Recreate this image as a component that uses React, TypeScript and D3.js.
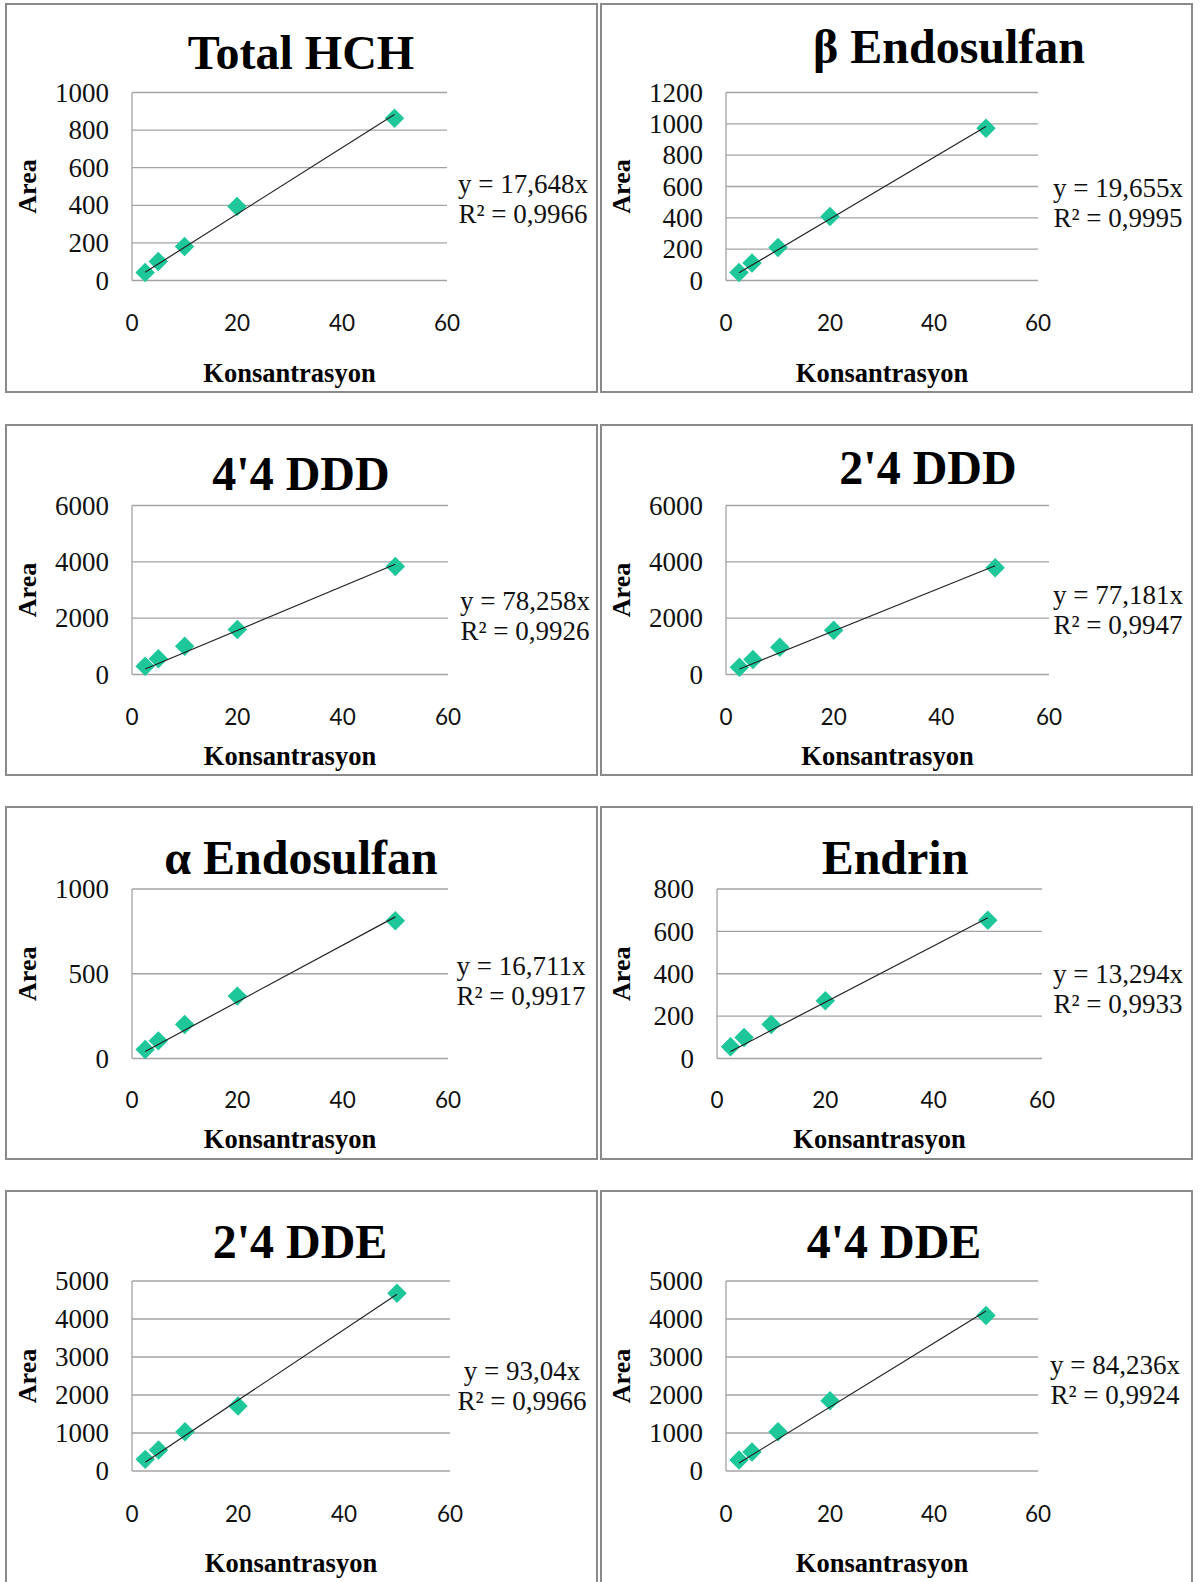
import React from "react";
import * as d3 from "d3";

// ---------- data ----------
const concentrations = [2.5, 5, 10, 20, 50];

const chartTitles = [
  "Total HCH",
  "β Endosulfan",
  "4'4 DDD",
  "2'4 DDD",
  "α Endosulfan",
  "Endrin",
  "2'4 DDE",
  "4'4 DDE",
];

const areaTotalHCH = [43, 101, 181, 394, 863];
const areaBetaEndosulfan = [51, 111, 211, 409, 972];
const area44DDD = [295, 555, 1004, 1594, 3837];
const area24DDD = [260, 531, 968, 1570, 3790];
const areaAlphaEndosulfan = [53, 104, 201, 368, 813];
const areaEndrin = [55, 99, 161, 272, 652];
const area24DDE = [306, 552, 1033, 1708, 4680];
const area44DDE = [290, 500, 1033, 1848, 4095];

const seriesValues = [
  areaTotalHCH,
  areaBetaEndosulfan,
  area44DDD,
  area24DDD,
  areaAlphaEndosulfan,
  areaEndrin,
  area24DDE,
  area44DDE,
];

const slopes = [17.648, 19.655, 78.258, 77.181, 16.711, 13.294, 93.04, 84.236];
const rSquared = ["0,9966", "0,9995", "0,9926", "0,9947", "0,9917", "0,9933", "0,9966", "0,9924"];

const yMaxValues = [1000, 1200, 6000, 6000, 1000, 800, 5000, 5000];
const yTickSteps = [200, 200, 2000, 2000, 500, 200, 1000, 1000];
const xTickValues = [0, 20, 40, 60];

const xAxisTitle = "Konsantrasyon";
const yAxisTitle = "Area";

// ---------- layout (positions only) ----------
type Layout = {
  box: [number, number, number, number];
  plot: [number, number, number, number]; // left, right, top, bottom
  title: [number, number];
  eq: [number, number];
  xTickY: number;
  xTitleY: number;
  yTitleX: number;
};

const layouts: Layout[] = [
  { box: [6, 4, 597, 392], plot: [132, 447, 92.5, 280.5], title: [301, 69], eq: [523, 193], xTickY: 331, xTitleY: 382, yTitleX: 36 },
  { box: [601, 4, 1192, 392], plot: [726, 1038, 92.5, 280.5], title: [949, 63], eq: [1118, 197], xTickY: 331, xTitleY: 382, yTitleX: 630 },
  { box: [6, 425, 597, 775], plot: [132, 448, 505.5, 674.5], title: [301, 490], eq: [525, 610], xTickY: 725, xTitleY: 765, yTitleX: 36 },
  { box: [601, 425, 1192, 775], plot: [726, 1049, 505.5, 674.5], title: [928, 484], eq: [1118, 604], xTickY: 725, xTitleY: 765, yTitleX: 630 },
  { box: [6, 807, 597, 1159], plot: [132, 448, 889, 1058.5], title: [301, 874], eq: [521, 975], xTickY: 1108, xTitleY: 1148, yTitleX: 36 },
  { box: [601, 807, 1192, 1159], plot: [717, 1042, 889, 1058.5], title: [895, 874], eq: [1118, 983], xTickY: 1108, xTitleY: 1148, yTitleX: 630 },
  { box: [6, 1191, 597, 1600], plot: [132, 450, 1281, 1471], title: [300, 1258], eq: [522, 1380], xTickY: 1522, xTitleY: 1572, yTitleX: 36 },
  { box: [601, 1191, 1192, 1600], plot: [726, 1038, 1281, 1471], title: [894, 1258], eq: [1115, 1374], xTickY: 1522, xTitleY: 1572, yTitleX: 630 },
];

const SERIF = "'Liberation Serif', 'Times New Roman', serif";
const SANS = "Lato, 'Open Sans', sans-serif";
const MARKER = "#1dc79a";
const GRID = "#a3a3a3";
const BORDER = "#8a8a8a";

function Panel({ i }: { i: number }) {
  const L = layouts[i];
  const [pl, pr, pt, pb] = L.plot;
  const x = d3.scaleLinear().domain([0, 60]).range([pl, pr]);
  const y = d3.scaleLinear().domain([0, yMaxValues[i]]).range([pb, pt]);
  const yTicks = d3.range(0, yMaxValues[i] + 1, yTickSteps[i]);
  const vals = seriesValues[i];
  const pts = concentrations.map((c, k) => [c, vals[k]] as [number, number]);
  const xMin = d3.min(concentrations)!;
  const xMax = d3.max(concentrations)!;
  const trend = d3.line<number>()
    .x((c) => x(c))
    .y((c) => y(slopes[i] * c))([xMin, xMax]);
  const diamond = d3.symbol(d3.symbolSquare, 190)()!;
  const slopeStr = String(slopes[i]).replace(".", ",");
  const [bx0, by0, bx1, by1] = L.box;
  const yMid = (pt + pb) / 2;

  return (
    <g>
      <rect x={bx0} y={by0} width={bx1 - bx0} height={by1 - by0} fill="#fff" stroke={BORDER} strokeWidth={2} />
      {/* gridlines */}
      {yTicks.map((t) => (
        <line key={"g" + t} x1={pl} x2={pr} y1={y(t)} y2={y(t)} stroke={GRID} strokeWidth={1.3} />
      ))}
      <line x1={pl} x2={pl} y1={pt} y2={pb} stroke={GRID} strokeWidth={1.3} />
      {/* y tick labels */}
      {yTicks.map((t) => (
        <text key={"yl" + t} x={pl - 23} y={y(t)} dy="0.34em" textAnchor="end" fontFamily={SERIF} fontSize={27} fill="#111">
          {t}
        </text>
      ))}
      {/* x tick labels */}
      {xTickValues.map((t) => (
        <text key={"xl" + t} x={x(t)} y={L.xTickY} textAnchor="middle" fontFamily={SANS} fontSize={22.5} fill="#111">
          {t}
        </text>
      ))}
      {/* markers */}
      {pts.map(([c, v], k) => (
        <path key={"m" + k} d={diamond} transform={`translate(${x(c)},${y(v)}) rotate(45)`} fill={MARKER} />
      ))}
      {/* trendline */}
      <path d={trend!} stroke="#222" strokeWidth={1.2} fill="none" />
      {/* title */}
      <text x={L.title[0]} y={L.title[1]} textAnchor="middle" fontFamily={SERIF} fontWeight="bold" fontSize={48} fill="#000">
        {chartTitles[i]}
      </text>
      {/* axis titles */}
      <text x={(pl + pr) / 2} y={L.xTitleY} textAnchor="middle" fontFamily={SERIF} fontWeight="bold" fontSize={26.5} fill="#000">
        {xAxisTitle}
      </text>
      <text transform={`translate(${L.yTitleX},${yMid}) rotate(-90)`} textAnchor="middle" fontFamily={SERIF} fontWeight="bold" fontSize={26} fill="#000">
        {yAxisTitle}
      </text>
      {/* equation */}
      <text x={L.eq[0]} y={L.eq[1]} textAnchor="middle" fontFamily={SERIF} fontSize={27} fill="#111">
        {`y = ${slopeStr}x`}
      </text>
      <text x={L.eq[0]} y={L.eq[1] + 30} textAnchor="middle" fontFamily={SERIF} fontSize={27} fill="#111">
        {`R² = ${rSquared[i]}`}
      </text>
    </g>
  );
}

export default function App() {
  return (
    <svg
      width={1200}
      height={1582}
      viewBox="0 0 1200 1582"
      style={{ position: "absolute", left: 0, top: 0, background: "#fff" }}
    >
      <rect x={0} y={0} width={1200} height={1582} fill="#fff" />
      {chartTitles.map((_, i) => (
        <Panel key={i} i={i} />
      ))}
    </svg>
  );
}
